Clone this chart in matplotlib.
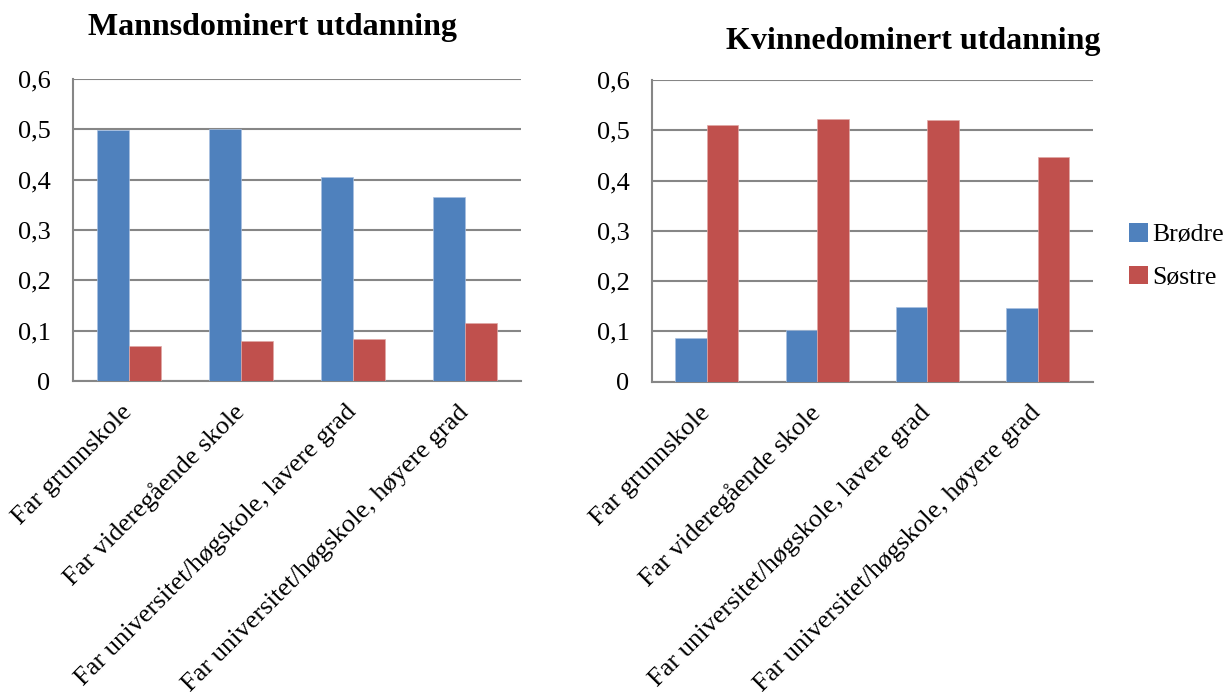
import matplotlib
matplotlib.use("Agg")
import matplotlib.pyplot as plt
import numpy as np
from matplotlib.ticker import FuncFormatter
from matplotlib.patches import Patch

plt.rcParams['font.family'] = ['Liberation Serif', 'DejaVu Serif']

categories = ["Far grunnskole", "Far videregående skole",
              "Far universitet/høgskole, lavere grad",
              "Far universitet/høgskole, høyere grad"]
series_names = ["Brødre", "Søstre"]
mann_brodre = [0.498, 0.501, 0.406, 0.366]
mann_sostre = [0.070, 0.080, 0.083, 0.115]
kvinne_brodre = [0.086, 0.103, 0.148, 0.146]
kvinne_sostre = [0.511, 0.523, 0.520, 0.447]
titles = ["Mannsdominert utdanning", "Kvinnedominert utdanning"]
yticks = [0, 0.1, 0.2, 0.3, 0.4, 0.5, 0.6]

BLUE = "#4F81BD"
RED = "#C0504D"
GRID = "#868686"
FS = 19

W, H = 1226, 692
fig = plt.figure(figsize=(W / 100, H / 100), dpi=100)

def fmt(v, pos):
    if abs(v) < 1e-9:
        return "0"
    return ("%.1f" % v).replace(".", ",")

def draw(ax, b, s):
    x = np.arange(len(categories))
    w = 0.2857
    ax.bar(x - w / 2, b, w, color=BLUE, zorder=3, edgecolor='#a8c0e0', linewidth=0.5)
    ax.bar(x + w / 2, s, w, color=RED, zorder=3, edgecolor='#e0a8a6', linewidth=0.5)
    ax.set_xlim(-0.5, len(categories) - 0.5)
    ax.set_ylim(0, 0.6)
    ax.set_yticks(yticks)
    ax.yaxis.set_major_formatter(FuncFormatter(fmt))
    ax.grid(axis='y', color=GRID, linewidth=1.5, zorder=0)
    for sp in ['top', 'right']:
        ax.spines[sp].set_visible(False)
    for sp in ['left', 'bottom']:
        ax.spines[sp].set_color(GRID)
        ax.spines[sp].set_linewidth(1.5)
    ax.tick_params(axis='y', length=0, pad=16, labelsize=FS)
    ax.tick_params(axis='x', length=0, pad=20, labelsize=FS)
    ax.set_xticks(x)
    ax.set_xticklabels(categories, rotation=45, ha='right', va='center',
                       rotation_mode='anchor')

ax1 = fig.add_axes([72.7 / W, 1 - 381 / H, 448.3 / W, 302 / H])
draw(ax1, mann_brodre, mann_sostre)
ax2 = fig.add_axes([651.7 / W, 1 - 381.7 / H, 441 / W, 301.7 / H])
draw(ax2, kvinne_brodre, kvinne_sostre)

fig.text(272.5 / W, 1 - 28 / H, titles[0], ha='center', va='center',
         fontsize=23, fontweight='bold')
fig.text(913 / W, 1 - 41 / H, titles[1], ha='center', va='center',
         fontsize=23, fontweight='bold')

handles = [Patch(facecolor=BLUE), Patch(facecolor=RED)]
fig.legend(handles, series_names, loc='center left',
           bbox_to_anchor=(1106 / W, 1 - 256 / H), frameon=False,
           fontsize=18.5, handlelength=0.75, handleheight=0.75,
           handletextpad=0.15, labelspacing=0.75)

fig.savefig("out.png", dpi=100)
